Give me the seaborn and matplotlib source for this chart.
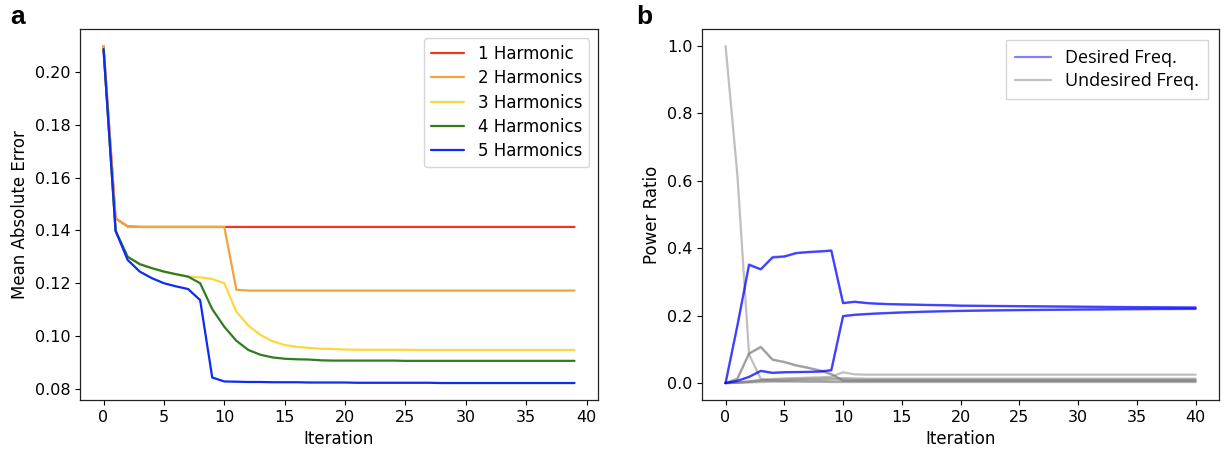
import matplotlib
matplotlib.use("Agg")
import matplotlib.pyplot as plt
from matplotlib.lines import Line2D
import numpy as np
import pandas as pd
import seaborn as sns

# ---------------- panel a: mean absolute error per iteration ----------------
iterations_a = list(range(40))
harmonic_labels = ["1 Harmonic", "2 Harmonics", "3 Harmonics", "4 Harmonics", "5 Harmonics"]
harmonic_colors = ["#ee3424", "#f4a33a", "#fcd740", "#2f7d20", "#0c2cf4"]

mae_1 = [0.2098, 0.1445, 0.1415, 0.1413, 0.1413, 0.1413, 0.1413, 0.1413, 0.1413, 0.1413,
         0.1413, 0.1413, 0.1413, 0.1413, 0.1413, 0.1413, 0.1413, 0.1413, 0.1413, 0.1413,
         0.1413, 0.1413, 0.1413, 0.1413, 0.1413, 0.1413, 0.1413, 0.1413, 0.1413, 0.1413,
         0.1413, 0.1413, 0.1413, 0.1413, 0.1413, 0.1413, 0.1413, 0.1413, 0.1413, 0.1413]
mae_2 = [0.2098, 0.1445, 0.1415, 0.1413, 0.1413, 0.1413, 0.1413, 0.1413, 0.1413, 0.1413,
         0.1413, 0.1175, 0.1172, 0.1172, 0.1172, 0.1172, 0.1172, 0.1172, 0.1172, 0.1172,
         0.1172, 0.1172, 0.1172, 0.1172, 0.1172, 0.1172, 0.1172, 0.1172, 0.1172, 0.1172,
         0.1172, 0.1172, 0.1172, 0.1172, 0.1172, 0.1172, 0.1172, 0.1172, 0.1172, 0.1172]
mae_3 = [0.2086, 0.1398, 0.1300, 0.1272, 0.1257, 0.1244, 0.1234, 0.1225, 0.1222, 0.1216,
         0.1200, 0.1092, 0.1039, 0.1004, 0.0980, 0.0966, 0.0959, 0.0955, 0.0952, 0.0951,
         0.0949, 0.0948, 0.0948, 0.0948, 0.0948, 0.0948, 0.0947, 0.0947, 0.0947, 0.0947,
         0.0947, 0.0947, 0.0947, 0.0947, 0.0947, 0.0947, 0.0947, 0.0947, 0.0947, 0.0947]
mae_4 = [0.2086, 0.1398, 0.1300, 0.1272, 0.1257, 0.1244, 0.1234, 0.1225, 0.1200, 0.1102,
         0.1035, 0.0982, 0.0947, 0.0929, 0.0919, 0.0914, 0.0912, 0.0911, 0.0908, 0.0907,
         0.0907, 0.0907, 0.0907, 0.0907, 0.0907, 0.0906, 0.0906, 0.0906, 0.0906, 0.0906,
         0.0906, 0.0906, 0.0906, 0.0906, 0.0906, 0.0906, 0.0906, 0.0906, 0.0906, 0.0906]
mae_5 = [0.2086, 0.1398, 0.1288, 0.1244, 0.1219, 0.1200, 0.1188, 0.1178, 0.1136, 0.0843,
         0.0828, 0.0827, 0.0826, 0.0826, 0.0825, 0.0825, 0.0825, 0.0824, 0.0824, 0.0824,
         0.0824, 0.0823, 0.0823, 0.0823, 0.0823, 0.0823, 0.0823, 0.0823, 0.0822, 0.0822,
         0.0822, 0.0822, 0.0822, 0.0822, 0.0822, 0.0822, 0.0822, 0.0822, 0.0822, 0.0822]

# ---------------- panel b: power ratio per frequency component ----------------
iterations_b = list(range(41))

desired_1 = [0.000, 0.170, 0.352, 0.338, 0.374, 0.376, 0.386, 0.389, 0.391, 0.3935,
             0.2377, 0.2416, 0.2377, 0.2357, 0.2345, 0.2337, 0.2330, 0.2323, 0.2317, 0.2312,
             0.2300, 0.2297, 0.2294, 0.2291, 0.2288, 0.2285, 0.2282, 0.2279, 0.2276, 0.2273,
             0.2270, 0.2267, 0.2264, 0.2261, 0.2258, 0.2256, 0.2254, 0.2252, 0.2250, 0.2248,
             0.2246]
desired_2 = [0.000, 0.168, 0.350, 0.337, 0.372, 0.375, 0.385, 0.388, 0.390, 0.3925,
             0.2370, 0.2408, 0.2370, 0.2350, 0.2338, 0.2330, 0.2322, 0.2315, 0.2309, 0.2303,
             0.2292, 0.2289, 0.2286, 0.2283, 0.2280, 0.2277, 0.2274, 0.2271, 0.2268, 0.2265,
             0.2262, 0.2259, 0.2256, 0.2253, 0.2250, 0.2248, 0.2246, 0.2244, 0.2242, 0.2240,
             0.2238]
desired_3 = [0.000, 0.007, 0.0187, 0.0365, 0.0306, 0.0325, 0.0330, 0.0335, 0.0345, 0.0385,
             0.1982, 0.2021, 0.2042, 0.2061, 0.2076, 0.2090, 0.2102, 0.2113, 0.2122, 0.2130,
             0.2137, 0.2143, 0.2148, 0.2153, 0.2157, 0.2161, 0.2165, 0.2168, 0.2171, 0.2174,
             0.2177, 0.2180, 0.2182, 0.2185, 0.2187, 0.2189, 0.2191, 0.2193, 0.2195, 0.2197,
             0.2199]
desired_4 = [0.000, 0.006, 0.0180, 0.0358, 0.0300, 0.0318, 0.0323, 0.0328, 0.0338, 0.0378,
             0.1992, 0.2030, 0.2052, 0.2071, 0.2086, 0.2100, 0.2112, 0.2122, 0.2131, 0.2139,
             0.2146, 0.2152, 0.2157, 0.2162, 0.2166, 0.2170, 0.2174, 0.2177, 0.2180, 0.2183,
             0.2186, 0.2189, 0.2191, 0.2194, 0.2196, 0.2198, 0.2200, 0.2202, 0.2204, 0.2206,
             0.2208]

undesired_1 = [1.000, 0.620, 0.085, 0.012, 0.008, 0.006, 0.005, 0.004, 0.004, 0.003,
               0.003, 0.003, 0.003, 0.003, 0.003, 0.003, 0.003, 0.003, 0.003, 0.003,
               0.003, 0.003, 0.003, 0.003, 0.003, 0.003, 0.003, 0.003, 0.003, 0.003,
               0.003, 0.003, 0.003, 0.003, 0.003, 0.003, 0.003, 0.003, 0.003, 0.003,
               0.003]
undesired_2 = [0.000, 0.013, 0.088, 0.108, 0.070, 0.063, 0.053, 0.046, 0.038, 0.027,
               0.008, 0.008, 0.008, 0.008, 0.008, 0.008, 0.008, 0.008, 0.008, 0.008,
               0.008, 0.008, 0.008, 0.008, 0.008, 0.008, 0.008, 0.008, 0.008, 0.008,
               0.008, 0.008, 0.008, 0.008, 0.008, 0.008, 0.008, 0.008, 0.008, 0.008,
               0.008]
undesired_3 = [0.000, 0.012, 0.087, 0.106, 0.069, 0.062, 0.052, 0.045, 0.037, 0.026,
               0.007, 0.007, 0.007, 0.007, 0.007, 0.007, 0.007, 0.007, 0.007, 0.007,
               0.007, 0.007, 0.007, 0.007, 0.007, 0.007, 0.007, 0.007, 0.007, 0.007,
               0.007, 0.007, 0.007, 0.007, 0.007, 0.007, 0.007, 0.007, 0.007, 0.007,
               0.007]
undesired_4 = [0.000, 0.001, 0.005, 0.010, 0.012, 0.014, 0.015, 0.016, 0.017, 0.019,
               0.032, 0.026, 0.025, 0.025, 0.025, 0.025, 0.025, 0.025, 0.025, 0.025,
               0.025, 0.025, 0.025, 0.025, 0.025, 0.025, 0.025, 0.025, 0.025, 0.025,
               0.025, 0.025, 0.025, 0.025, 0.025, 0.025, 0.025, 0.025, 0.025, 0.025,
               0.025]
undesired_5 = [0.000, 0.002, 0.005, 0.008, 0.010, 0.011, 0.012, 0.013, 0.013, 0.014,
               0.015, 0.014, 0.013, 0.013, 0.013, 0.013, 0.013, 0.013, 0.013, 0.013,
               0.013, 0.013, 0.013, 0.013, 0.013, 0.013, 0.013, 0.013, 0.013, 0.013,
               0.013, 0.013, 0.013, 0.013, 0.013, 0.013, 0.013, 0.013, 0.013, 0.013,
               0.013]
undesired_6 = [0.000, 0.001, 0.003, 0.006, 0.007, 0.008, 0.009, 0.010, 0.010, 0.011,
               0.011, 0.010, 0.010, 0.010, 0.010, 0.010, 0.010, 0.010, 0.010, 0.010,
               0.010, 0.010, 0.010, 0.010, 0.010, 0.010, 0.010, 0.010, 0.010, 0.010,
               0.010, 0.010, 0.010, 0.010, 0.010, 0.010, 0.010, 0.010, 0.010, 0.010,
               0.010]
undesired_7 = [0.000, 0.001, 0.002, 0.003, 0.004, 0.004, 0.005, 0.005, 0.005, 0.005,
               0.005, 0.005, 0.005, 0.005, 0.005, 0.005, 0.005, 0.005, 0.005, 0.005,
               0.005, 0.005, 0.005, 0.005, 0.005, 0.005, 0.005, 0.005, 0.005, 0.005,
               0.005, 0.005, 0.005, 0.005, 0.005, 0.005, 0.005, 0.005, 0.005, 0.005,
               0.005]

desired_series = [desired_1, desired_2, desired_3, desired_4]
undesired_series = [undesired_1, undesired_2, undesired_3, undesired_4,
                    undesired_5, undesired_6, undesired_7]

# ---------------- style ----------------
sns.set_style("ticks")
plt.rcParams.update({
    "font.family": ["DejaVu Sans"],
    "font.size": 12,
    "axes.labelsize": 12,
    "xtick.labelsize": 11.5,
    "ytick.labelsize": 11.5,
    "legend.fontsize": 12,
    "text.color": "black",
    "axes.labelcolor": "black",
    "xtick.color": "black",
    "ytick.color": "black",
    "axes.edgecolor": "#222222",
    "xtick.major.size": 3.5,
    "ytick.major.size": 3.5,
    "xtick.major.width": 0.8,
    "ytick.major.width": 0.8,
    "axes.linewidth": 0.9,
})

LW = 1.6

fig = plt.figure(figsize=(12.25, 4.55), dpi=100)
ax_a = fig.add_axes([0.0653, 0.121, 0.4229, 0.815])
ax_b = fig.add_axes([0.5731, 0.121, 0.4221, 0.815])

# panel a
df_a = pd.DataFrame({
    "Iteration": iterations_a * 5,
    "MAE": mae_1 + mae_2 + mae_3 + mae_4 + mae_5,
    "Model": sum([[lab] * len(iterations_a) for lab in harmonic_labels], []),
})
sns.lineplot(data=df_a, x="Iteration", y="MAE", hue="Model",
             hue_order=harmonic_labels, palette=harmonic_colors,
             linewidth=LW, ax=ax_a, legend=False)
ax_a.set_xlabel("Iteration")
ax_a.set_ylabel("Mean Absolute Error")
ax_a.set_xticks([0, 5, 10, 15, 20, 25, 30, 35, 40])
ax_a.set_yticks([0.08, 0.10, 0.12, 0.14, 0.16, 0.18, 0.20])
ax_a.set_yticklabels([f"{v:.2f}" for v in [0.08, 0.10, 0.12, 0.14, 0.16, 0.18, 0.20]])
ax_a.set_xlim(-1.95, 40.95)
ax_a.set_ylim(0.0758, 0.2162)
handles_a = [Line2D([], [], color=c, linewidth=LW) for c in harmonic_colors]
ax_a.legend(handles_a, harmonic_labels, loc="upper right",
            borderaxespad=0.55, handlelength=2.0, labelspacing=0.38)

# panel b
rows = []
for k, s in enumerate(desired_series):
    rows.append(pd.DataFrame({"Iteration": iterations_b, "Ratio": s,
                              "Kind": "Desired Freq.", "Line": f"d{k}"}))
for k, s in enumerate(undesired_series):
    rows.append(pd.DataFrame({"Iteration": iterations_b, "Ratio": s,
                              "Kind": "Undesired Freq.", "Line": f"u{k}"}))
df_b = pd.concat(rows, ignore_index=True)

sns.lineplot(data=df_b[df_b["Kind"] == "Undesired Freq."], x="Iteration", y="Ratio",
             units="Line", estimator=None, color="gray", alpha=0.5,
             linewidth=LW, ax=ax_b, legend=False)
sns.lineplot(data=df_b[df_b["Kind"] == "Desired Freq."], x="Iteration", y="Ratio",
             units="Line", estimator=None, color="blue", alpha=0.5,
             linewidth=LW, ax=ax_b, legend=False)
ax_b.set_xlabel("Iteration")
ax_b.set_ylabel("Power Ratio")
ax_b.set_xticks([0, 5, 10, 15, 20, 25, 30, 35, 40])
ax_b.set_yticks([0.0, 0.2, 0.4, 0.6, 0.8, 1.0])
ax_b.set_xlim(-2.0, 42.0)
ax_b.set_ylim(-0.05, 1.05)
handles_b = [Line2D([], [], color="blue", alpha=0.5, linewidth=LW),
             Line2D([], [], color="gray", alpha=0.5, linewidth=LW)]
ax_b.legend(handles_b, ["Desired Freq.", "Undesired Freq."], loc="upper right",
            borderaxespad=0.6, handlelength=2.0, labelspacing=0.3, borderpad=0.5,
            fancybox=False, prop={"family": "Open Sans", "size": 13})

fig.text(0.008, 0.988, "a", fontsize=19, fontweight="bold",
         family="Liberation Sans", va="top", ha="left")
fig.text(0.519, 0.988, "b", fontsize=19, fontweight="bold",
         family="Liberation Sans", va="top", ha="left")

fig.savefig("out.png", dpi=100)
